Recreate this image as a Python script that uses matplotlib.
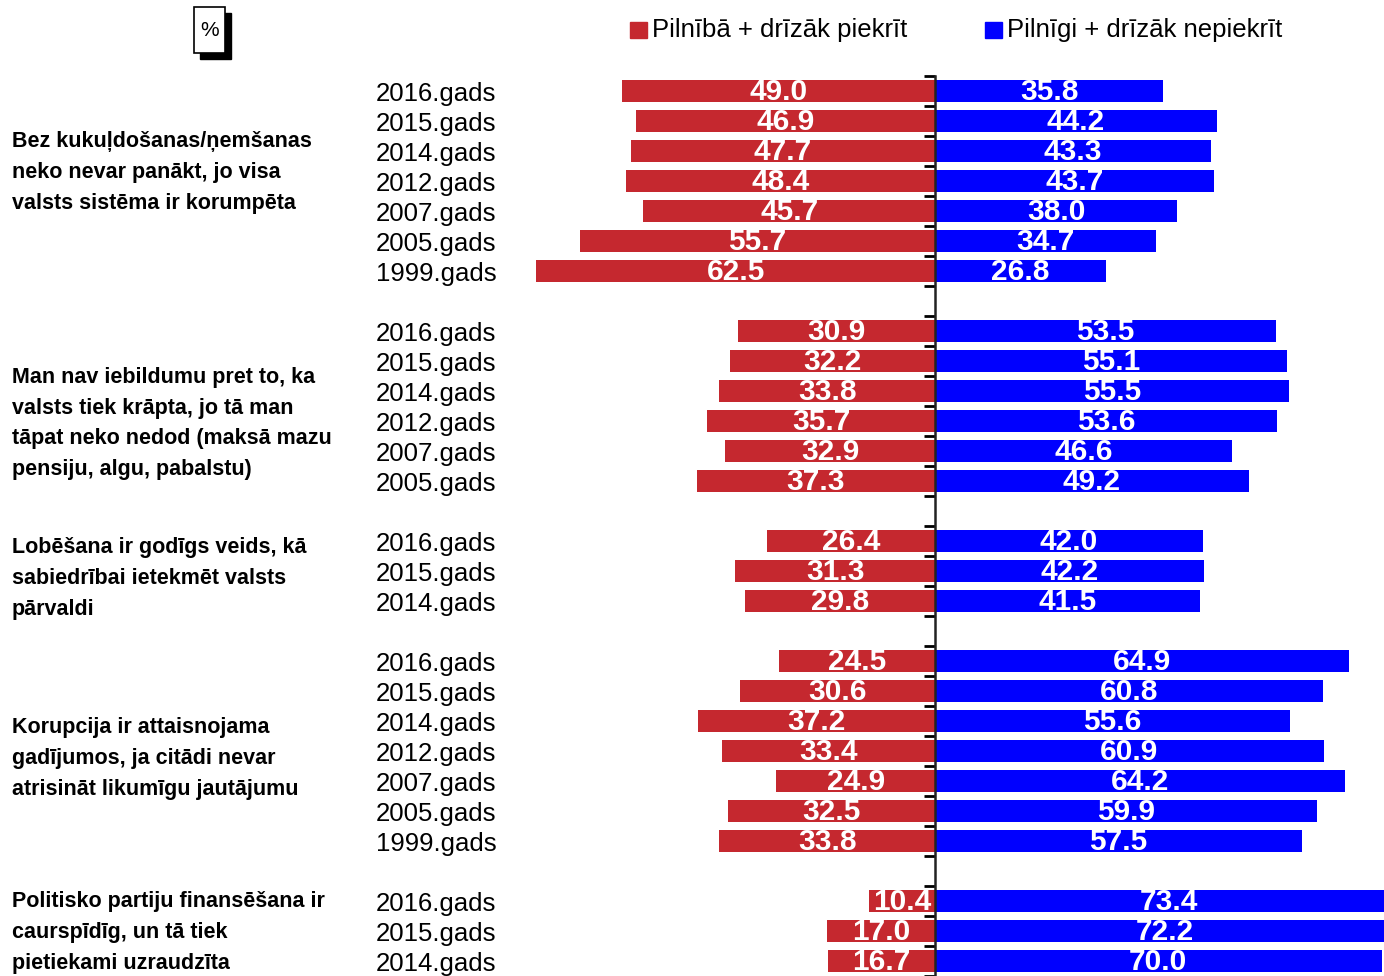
import numpy as np
import matplotlib.pyplot as plt
from matplotlib.patches import Rectangle

plt.rcParams['font.family'] = ['Liberation Sans', 'DejaVu Sans']

RED = "#C5282F"
BLUE = "#0000FF"

questions = [
    "Bez kukuļdošanas/ņemšanas\nneko nevar panākt, jo visa\nvalsts sistēma ir korumpēta",
    "Man nav iebildumu pret to, ka\nvalsts tiek krāpta, jo tā man\ntāpat neko nedod (maksā mazu\npensiju, algu, pabalstu)",
    "Lobēšana ir godīgs veids, kā\nsabiedrībai ietekmēt valsts\npārvaldi",
    "Korupcija ir attaisnojama\ngadījumos, ja citādi nevar\natrisināt likumīgu jautājumu",
    "Politisko partiju finansēšana ir\ncaurspīdīg, un tā tiek\npietiekami uzraudzīta",
]

years = [
    ["2016", "2015", "2014", "2012", "2007", "2005", "1999"],
    ["2016", "2015", "2014", "2012", "2007", "2005"],
    ["2016", "2015", "2014"],
    ["2016", "2015", "2014", "2012", "2007", "2005", "1999"],
    ["2016", "2015", "2014"],
]

agree = [
    [49.0, 46.9, 47.7, 48.4, 45.7, 55.7, 62.5],
    [30.9, 32.2, 33.8, 35.7, 32.9, 37.3],
    [26.4, 31.3, 29.8],
    [24.5, 30.6, 37.2, 33.4, 24.9, 32.5, 33.8],
    [10.4, 17.0, 16.7],
]

disagree = [
    [35.8, 44.2, 43.3, 43.7, 38.0, 34.7, 26.8],
    [53.5, 55.1, 55.5, 53.6, 46.6, 49.2],
    [42.0, 42.2, 41.5],
    [64.9, 60.8, 55.6, 60.9, 64.2, 59.9, 57.5],
    [73.4, 72.2, 70.0],
]

legend_labels = ["Pilnībā + drīzāk piekrīt", "Pilnīgi + drīzāk nepiekrīt"]

W, H = 1384, 976
fig = plt.figure(figsize=(W / 100, H / 100), dpi=100)
ax = fig.add_axes([0, 0, 1, 1 - 76 / H])

px_per_unit = 6.38
ax.set_xlim(-935 / px_per_unit, (W - 935) / px_per_unit)

# slot positions, with one empty slot between groups
pos = []
y = 0
for g in range(len(agree)):
    pos.append(np.arange(y, y + len(agree[g])))
    y += len(agree[g]) + 1
n_slots = y - 1
ax.set_ylim(n_slots - 0.5, -0.5)

label_offsets = [2.72, 11.08, 16.25, 22.25, 28.05]

for g in range(len(agree)):
    p = pos[g]
    a = np.array(agree[g])
    d = np.array(disagree[g])
    ax.barh(p, -a, height=0.73, color=RED)
    ax.barh(p, d, height=0.73, color=BLUE)
    for yy, av, dv, yr in zip(p, a, d, years[g]):
        ax.text(-av / 2, yy + 0.03, f"{av:.1f}", ha="center", va="center",
                color="white", fontsize=21.5, fontweight="bold")
        ax.text(dv / 2, yy + 0.03, f"{dv:.1f}", ha="center", va="center",
                color="white", fontsize=21.5, fontweight="bold")
        ax.text(376 / W, yy + 0.1, f"{yr}.gads", transform=ax.get_yaxis_transform(),
                ha="left", va="center", fontsize=18.5)
    ax.text(12 / W, label_offsets[g], questions[g], transform=ax.get_yaxis_transform(),
            ha="left", va="center", fontsize=15.5, fontweight="bold",
            linespacing=1.6)

for s in ["top", "right", "bottom"]:
    ax.spines[s].set_visible(False)
ax.spines["left"].set_position(("data", 0))
ax.spines["left"].set_linewidth(1.8)
ax.spines["left"].set_color("#222222")
ax.set_xticks([])
ax.set_yticks(np.arange(-0.5, n_slots + 0.5, 1.0))
ax.set_yticklabels([])
ax.tick_params(axis="y", direction="out", length=8, width=2.0)

# legend
for x0, col, lab in [(630, RED, legend_labels[0]), (985, BLUE, legend_labels[1])]:
    fig.patches.append(Rectangle((x0 / W, 1 - 38 / H), 17 / W, 16 / H,
                                 transform=fig.transFigure, color=col))
    fig.text((x0 + 22) / W, 1 - 30 / H, lab, ha="left", va="center", fontsize=18.5)

# % box with shadow
fig.patches.append(Rectangle((200 / W, 1 - 59 / H), 31 / W, 46 / H,
                             transform=fig.transFigure, facecolor="black",
                             edgecolor="black"))
fig.patches.append(Rectangle((194 / W, 1 - 53 / H), 31 / W, 46 / H,
                             transform=fig.transFigure, facecolor="white",
                             edgecolor="black", linewidth=1.2))
fig.text(209.5 / W, 1 - 31 / H, "%", ha="center", va="center", fontsize=15)

fig.savefig("out.png", dpi=100)
